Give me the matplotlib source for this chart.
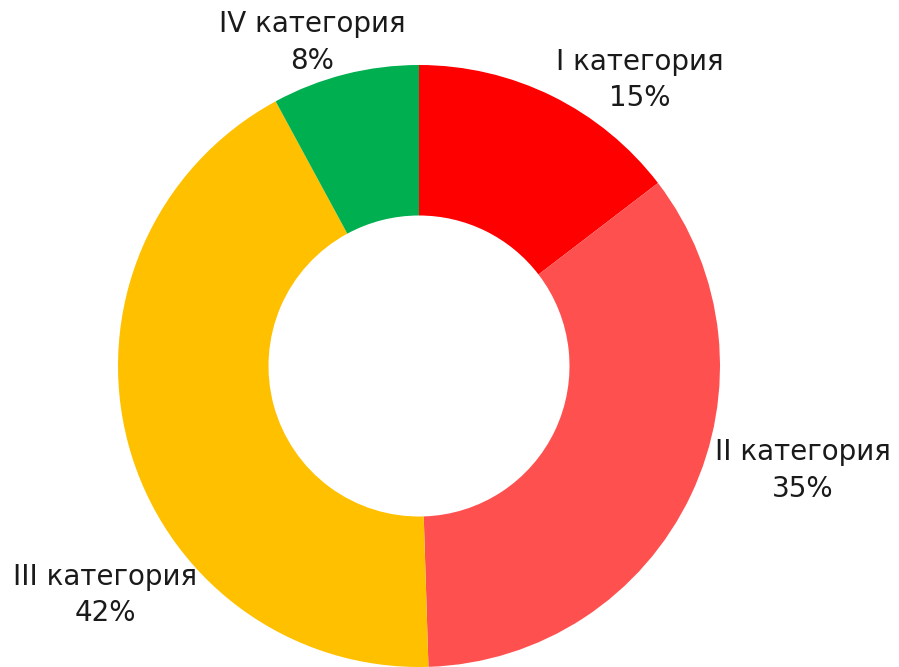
import matplotlib.pyplot as plt

categories = ['I категория', 'II категория', 'III категория', 'IV категория']
shares = [14.6, 34.9, 42.6, 7.9]
pct_labels = ['15%', '35%', '42%', '8%']
colors = ['#FF0000', '#FF5050', '#FFC000', '#00B050']

# label centres in data units (radius of ring = 1)
label_pos = [(0.734, 0.950), (1.276, -0.346), (-1.043, -0.761), (-0.355, 1.076)]

fig = plt.figure(figsize=(8.99, 6.67), dpi=100)
ax = fig.add_axes([118 / 899, 0, 602 / 899, 602 / 667])

wedges, _ = ax.pie(shares, colors=colors, startangle=90, counterclock=False,
                   radius=1, wedgeprops=dict(width=0.5, edgecolor='white', linewidth=0))

for name, pct, (x, y) in zip(categories, pct_labels, label_pos):
    ax.text(x, y, f'{name}\n{pct}', ha='center', va='center',
            fontsize=20, color='#1a1a1a', linespacing=1.4, family='DejaVu Sans')

ax.set_xlim(-1, 1)
ax.set_ylim(-1, 1)
ax.set_aspect('equal')
ax.axis('off')

fig.savefig('out.png', dpi=100)
